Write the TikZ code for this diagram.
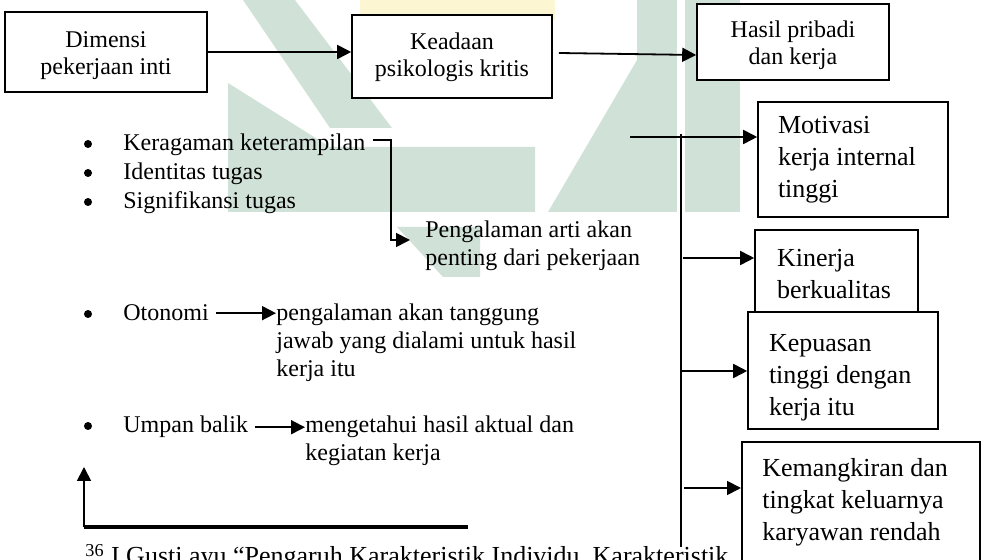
\documentclass[tikz,border=0pt]{standalone}
\usepackage{fontspec}
\setmainfont{Liberation Serif}
\usetikzlibrary{arrows.meta}
\definecolor{hijaumuda}{RGB}{208,226,216}
\definecolor{kuningmuda}{RGB}{252,246,210}

\begin{document}
\begin{tikzpicture}[x=0.5pt, y=-0.5pt,
    kotak/.style={draw, fill=white, line width=0.8pt, inner sep=0pt, align=center, font=\fontsize{12}{13.75}\selectfont},
    kotakhasil/.style={draw, fill=white, line width=0.8pt, inner ysep=0pt, align=flush left, font=\fontsize{13}{16}\selectfont},
    teks/.style={inner sep=0pt, align=flush left, font=\fontsize{12}{14}\selectfont},
    panah/.style={-{Triangle[length=7pt, width=7pt]}, line width=0.9pt},
    titik/.style={circle, fill, inner sep=0pt, minimum size=4pt}]
    \useasboundingbox (0,0) rectangle (982,560);
    \clip (0,0) rectangle (982,560);

    % 背景水印
    \fill[kuningmuda] (360,0) rectangle (555,20);
    \fill[hijaumuda] (243,0) -- (295,0) -- (392,128) -- (330,128) -- cycle;
    \fill[hijaumuda] (228,83) -- (330,147) -- (535,147) -- (535,212) -- (228,212) -- cycle;
    \fill[hijaumuda] (637,0) rectangle (677,212);
    \fill[hijaumuda] (685,0) rectangle (740,212);
    \fill[hijaumuda] (637,60) -- (637,212) -- (548,212) -- cycle;
    \fill[hijaumuda] (397,227) -- (480,227) -- (480,277) -- (443,277) -- cycle;

    % 上方：三个方框
    \node[kotak, minimum width=101pt, minimum height=40pt] (dimensi) at (106,52) {\rule{0pt}{11.35pt}Dimensi\\pekerjaan inti};
    \node[kotak, minimum width=100pt, minimum height=41.5pt] (keadaan) at (452,56.5) {\rule{0pt}{8.85pt}Keadaan\\psikologis kritis};
    \node[kotak, minimum width=96pt, minimum height=38pt] (hasil) at (793,42) {\rule{0pt}{11.35pt}Hasil pribadi\\dan kerja};
    \draw[panah] (dimensi.east) -- (dimensi.east -| keadaan.west);
    \draw[panah] ([xshift=3pt, yshift=1.75pt]keadaan.east) -- ([yshift=-6.5pt]hasil.west);

    % 左边：工作维度
    \foreach \i/\y in {1/144, 2/173, 3/202, 4/314, 5/426}
        \node[titik] (titik\i) at (88,\y) {};
    \node[teks, anchor=base west] (keragaman) at (123,151) {Keragaman keterampilan};
    \node[teks, anchor=base west] (identitas) at (123,180) {Identitas tugas};
    \node[teks, anchor=base west] (signifikansi) at (123,209) {Signifikansi tugas};
    \node[teks, anchor=base west] (otonomi) at (123,321) {Otonomi};
    \node[teks, anchor=base west] (umpanbalik) at (123,433) {Umpan balik};

    % 中间：心理状态
    \node[teks, anchor=west] (pengalaman) at (425,246) {Pengalaman arti akan\\penting dari pekerjaan};
    \node[teks, anchor=west] (tanggung) at (276,343) {pengalaman akan tanggung\\jawab yang dialami untuk hasil\\kerja itu};
    \node[teks, anchor=west] (mengetahui) at (305,441) {mengetahui hasil aktual dan\\kegiatan kerja};
    \draw[panah] ([xshift=3.5pt, yshift=2.75pt]keragaman.east) -- ++(9pt,0) |- ([xshift=-7.5pt, yshift=3pt]pengalaman.west);
    \draw[panah] ([xshift=3.5pt]otonomi.east) -- (otonomi.east -| tanggung.west);
    \draw[panah] ([xshift=3.5pt]umpanbalik.east) -- (umpanbalik.east -| mengetahui.west);

    % 脚注线与反馈箭头
    \coordinate (garissudut) at (84,527);
    \coordinate (garisujung) at (468,527);
    \coordinate (panahatas) at (84,467);
    \draw[line width=1.6pt] (garissudut) -- (garisujung);
    \draw[panah] (garissudut) -- (panahatas);
    \node[anchor=base west, inner sep=0pt, font=\fontsize{13}{15}\selectfont] (catatan) at (85,565)
        {\textsuperscript{36} I Gusti ayu “Pengaruh Karakteristik Individu, Karakteristik};

    % 右边：结果
    \node[kotakhasil, inner xsep=10pt, text width=75pt, minimum height=57.5pt] (motivasi) at (853,159.5) {Motivasi\\kerja internal\\tinggi};
    \node[kotakhasil, inner xsep=11pt, text width=59.5pt, minimum height=44pt] (kinerja) at (836.5,274) {Kinerja\\berkualitas};
    \node[kotakhasil, inner xsep=10.5pt, text width=74pt, minimum height=58.5pt] (kepuasan) at (843,370.5) {\rule{0pt}{15.6pt}Kepuasan\\tinggi dengan\\kerja itu};
    \node[draw, fill=white, line width=0.8pt, inner sep=0pt, minimum width=119pt, minimum height=80pt, anchor=north west] (kemangkiran) at (741,441) {};
    \node[inner sep=0pt, anchor=west, align=flush left, font=\fontsize{13}{16}\selectfont] (kemangkiranteks) at (762,502) {Kemangkiran dan\\tingkat keluarnya\\karyawan rendah};

    % 分支线
    \coordinate (masuk) at (630,137);
    \coordinate (busatas) at (681,137);
    \coordinate (busbawah) at (681,547);
    \coordinate (cabang2) at (683,258);
    \coordinate (cabang3) at (681,371);
    \coordinate (cabang4) at (684,488);
    \draw[line width=0.9pt] (masuk) -- (busatas);
    \draw[line width=0.9pt] ([yshift=1.5pt]busatas) -- (busbawah);
    \draw[panah] (busatas) -- (busatas -| motivasi.west);
    \draw[panah] (cabang2) -- (cabang2 -| kinerja.west);
    \draw[panah] (cabang3) -- (cabang3 -| kepuasan.west);
    \draw[panah] (cabang4) -- (cabang4 -| kemangkiran.west);
\end{tikzpicture}
\end{document}
